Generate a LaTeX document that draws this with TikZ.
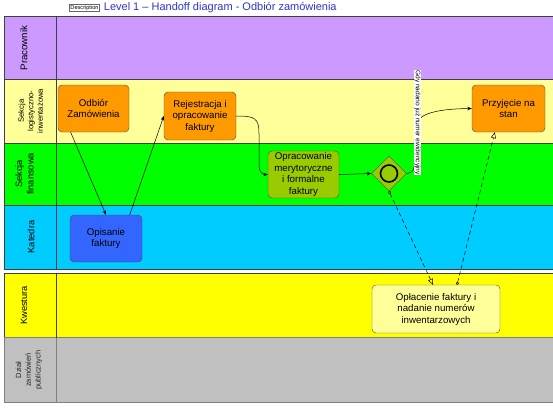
\documentclass[tikz,border=0pt]{standalone}
\usepackage{fontspec}
\setmainfont{Liberation Sans}
\usetikzlibrary{arrows.meta, positioning, shapes.geometric}

\definecolor{pracownikc}{HTML}{CC99FF}
\definecolor{logc}{HTML}{FFFF99}
\definecolor{finc}{HTML}{00FF00}
\definecolor{katc}{HTML}{00CCFF}
\definecolor{kwesc}{HTML}{FFFF00}
\definecolor{dzialc}{HTML}{C0C0C0}
\definecolor{taskorange}{HTML}{FF9900}
\definecolor{taskolive}{HTML}{99CC00}
\definecolor{taskblue}{HTML}{3366FF}
\definecolor{taskpale}{HTML}{FFFF99}
\definecolor{titleblue}{HTML}{2B37C8}

\tikzset{
  lane/.style={draw=black!75, line width=0.6pt},
  lanelabel/.style={rotate=90, align=center, inner sep=0pt},
  task/.style={rounded corners=4pt, draw=black!70, align=center, inner sep=1pt,
    font=\fontsize{9.7}{11.5}\selectfont},
  flow/.style={-{Stealth[length=4.5pt,width=3.5pt]}, line width=0.5pt},
  msgflow/.style={line width=0.5pt, dash pattern=on 4pt off 3pt,
    {Circle[open,length=3pt,width=3pt]}-{Triangle[open,length=6pt,width=5pt]}}
}

\begin{document}
\begin{tikzpicture}[x=1pt, y=-1pt, every node/.style={font=\fontsize{9}{11}\selectfont}]
    \clip (0,0) rectangle (553,407);
    \fill[white] (0,0) rectangle (553,407);

    % Title
    \node[draw=black!60, inner sep=1pt, font=\fontsize{5.6}{5.6}\selectfont] (desc) at (84.5,8) {Description};
    \node[right=4pt of desc, inner sep=0pt, text=titleblue, font=\fontsize{11}{12}\selectfont] (title) {Level 1 – Handoff diagram - Odbiór zamówienia};

    % Lanes
    \filldraw[lane, fill=pracownikc] (4,16.5) rectangle (560,79);
    \filldraw[lane, fill=logc] (4,79) rectangle (560,143);
    \filldraw[lane, fill=finc] (4,143) rectangle (560,205);
    \filldraw[lane, fill=katc] (4,205) rectangle (560,269);
    \filldraw[lane, fill=kwesc] (4,273.5) rectangle (560,337.5);
    \filldraw[lane, draw=black!50, fill=dzialc] (4,337.5) rectangle (560,402);
    \draw[lane] (56,16.5) -- (56,269);
    \draw[lane] (56,273.5) -- (56,337.5);
    \draw[lane, draw=black!50] (56,337.5) -- (56,402);

    % Lane labels
    \node[lanelabel, font=\fontsize{9.7}{11}\selectfont] (lpracownik) at (24,48) {Pracownik};
    \node[lanelabel, font=\fontsize{7.7}{9.5}\selectfont] (llog) at (30.5,111) {Sekcja\\logistyczno-\\inwentażowa};
    \node[lanelabel, font=\fontsize{9.3}{11.5}\selectfont] (lfin) at (24.5,174) {Sekcja\\finansowa};
    \node[lanelabel, font=\fontsize{9.3}{11}\selectfont] (lkatedra) at (31,237) {Katedra};
    \node[lanelabel, font=\fontsize{9.3}{11}\selectfont] (lkwestura) at (24,305.5) {Kwestura};
    \node[lanelabel, text=black!85, font=\fontsize{7.5}{9.8}\selectfont] (ldzial) at (29,370) {Dział\\zamówień\\publicznych};

    % Tasks
    \node[task, fill=taskorange, minimum width=71pt, minimum height=47pt] (odbior) at (93.5,108.5) {Odbiór\\Zamówienia};
    \node[task, fill=taskorange, minimum width=72pt, minimum height=48pt] (rejestracja) at (200,116) {Rejestracja i\\opracowanie\\faktury};
    \node[task, fill=taskolive, minimum width=71pt, minimum height=47pt] (opracowanie) at (303.5,174.5) {Opracowanie\\merytoryczne\\i formalne\\faktury};
    \node[task, fill=taskorange, minimum width=73pt, minimum height=47pt] (przyjecie) at (508.5,108.5) {Przyjęcie na\\stan};
    \node[task, fill=taskblue, minimum width=72pt, minimum height=47pt] (opisanie) at (106,238.5) {Opisanie\\faktury};
    \node[task, fill=taskpale, minimum width=128pt, minimum height=48pt] (oplacenie) at (436,309) {Opłacenie faktury i\\nadanie numerów\\inwentarzowych};

    % Gateway
    \node[diamond, draw=black!70, fill=taskolive, minimum size=35pt, inner sep=0pt] (gateway) at (389,173.5) {};
    \draw[line width=1.6pt] (gateway.center) circle (8.5pt);

    % Sequence flows
    \draw[flow] (odbior.226) -- (opisanie.north);
    \draw[flow] (opisanie.45) -- (rejestracja.west);
    \draw[flow] (rejestracja.east) .. controls (255,116) and (259,118) .. (259,134)
        -- (259,164) .. controls (259,172) and (262,174.5) .. (opracowanie.west);
    \draw[flow] (opracowanie.east) -- (gateway.west);
    \draw[flow] (gateway.east) .. controls (413,173) and (415,169) .. (415,160)
        -- (415,128) .. controls (416,115) and (432,109) .. (przyjecie.west);
    \node[rotate=-90, fill=white, inner sep=0.6pt, font=\fontsize{6.6}{6.6}\selectfont] (cond) at (417.5,122.5) {Gdy nadano już numer ewidencyjny};

    % Message flows
    \draw[msgflow] (gateway.south) -- (oplacenie.97);
    \draw[msgflow] (oplacenie.49) -- (przyjecie.240);

\end{tikzpicture}
\end{document}
